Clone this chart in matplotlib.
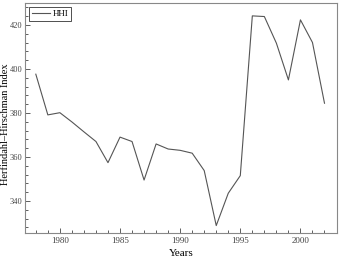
import matplotlib
matplotlib.use("Agg")
import matplotlib.pyplot as plt
from matplotlib.ticker import MultipleLocator

years = list(range(1978, 2003))
hhi = [397.6, 379.1, 380.1, 375.9, 371.4, 367.0, 357.4, 369.0, 367.0, 349.5,
       365.9, 363.6, 363.0, 361.7, 353.8, 328.8, 343.5, 351.5, 424.1, 423.8,
       411.7, 395.0, 422.3, 412.0, 384.4]

plt.rcParams['font.family'] = ['Liberation Serif', 'DejaVu Serif']

fig = plt.figure(figsize=(3.39, 2.63), dpi=100)
ax = fig.add_axes([0.0737, 0.113, 0.919, 0.876])
ax.plot(years, hhi, color='#555555', lw=0.8, label='HHI')

ax.set_xlim(1977.1, 2003)
ax.set_ylim(325.3, 430)
ax.xaxis.set_major_locator(MultipleLocator(5))
ax.xaxis.set_minor_locator(MultipleLocator(1))
ax.yaxis.set_major_locator(MultipleLocator(20))
ax.yaxis.set_minor_locator(MultipleLocator(4))
ax.tick_params(which='both', direction='in', top=False, right=False,
               labelsize=6.5, colors='#444444', width=0.6)
ax.tick_params(which='major', length=3.5, pad=2.5)
ax.tick_params(which='minor', length=2)
ax.tick_params(axis='y', which='major', labelsize=6, pad=2)
for s in ax.spines.values():
    s.set_color('#888888')
    s.set_linewidth(0.8)

ax.set_xlabel('Years', fontsize=8, labelpad=3)
ax.set_ylabel('Herfindahl\u2013Hirschman Index', fontsize=7.5)
ax.yaxis.set_label_coords(-0.048, 0.475)

leg = ax.legend(loc='upper left', fontsize=6.5, fancybox=False, framealpha=1,
                edgecolor='#333333', handlelength=2.0, borderpad=0.3,
                handletextpad=0.3, borderaxespad=0.5)
leg.get_frame().set_linewidth(0.6)

plt.savefig('out.png', dpi=100)
